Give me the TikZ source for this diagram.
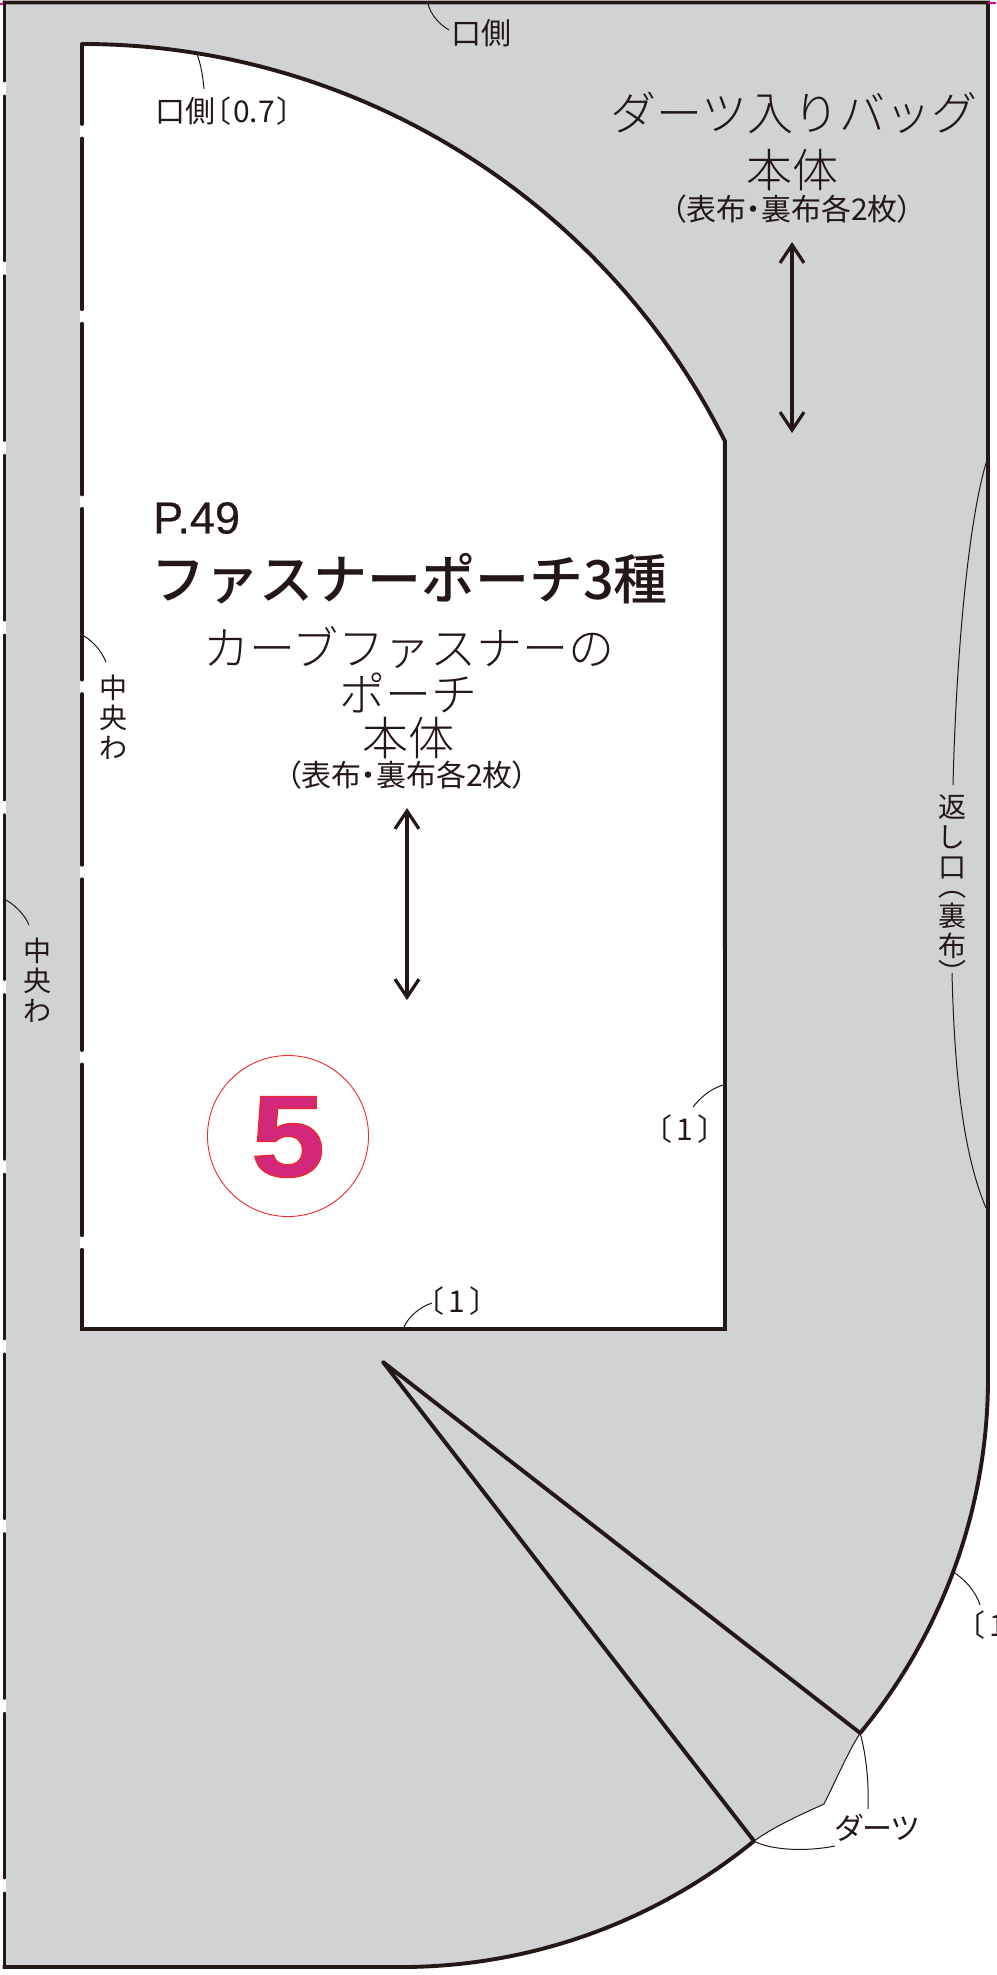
\documentclass[tikz,border=0pt]{standalone}
\usepackage{fontspec}
\usetikzlibrary{arrows.meta}
\setmainfont{Noto Sans CJK JP}
\newfontfamily\jpthin{Noto Sans CJK JP Light}
\newfontfamily\jpmedium{Noto Sans CJK JP Medium}
\newfontfamily\jppalt[RawFeature=+palt]{Noto Sans CJK JP}
\newfontfamily\latinsans[FakeBold=0.5]{Liberation Sans}
\newfontfamily\numfat[FakeBold=1.2]{Liberation Sans Bold}
\definecolor{inkblack}{HTML}{231815}
\definecolor{clothgray}{HTML}{D0D2D4}
\definecolor{markred}{HTML}{EE2A30}
\definecolor{markpink}{HTML}{D2277B}
\tikzset{
  cutline/.style={line width=3.9pt,draw=inkblack,line join=miter},
  foldline/.style={line width=3.9pt,draw=inkblack,line cap=round},
  leaderline/.style={line width=1pt,draw=inkblack},
  grainline/.style={line width=3.2pt,draw=inkblack,{Straight Barb[length=18pt,width=24pt,line width=3.2pt]}-{Straight Barb[length=18pt,width=24pt,line width=3.2pt]}},
  namejp/.style={inner sep=0pt,text=inkblack,font=\jpthin\fontsize{46}{50}\selectfont},
  notejp/.style={inner sep=0pt,text=inkblack,font=\jppalt\fontsize{30}{32}\selectfont},
  stackjp/.style={notejp,align=center,font=\jppalt\fontsize{28}{30}\selectfont},
}
\begin{document}
\begin{tikzpicture}[x=1pt,y=-1pt]
\useasboundingbox (0,0) rectangle (996,1975);
\fill [clothgray] (4.5,2.5) -- (988,2.5) -- (988,1378) arc [start angle=0,end angle=-39.6,radius=557pt] coordinate (dartup)
  .. controls (848,1752) and (836,1780) .. (824,1804) coordinate (dartmid) .. controls (800,1815) and (775,1826) .. (754,1841) coordinate (dartlow)
  arc [start angle=-50.7,end angle=-90,radius=557pt] coordinate (hemend) -- (4.5,1967) -- cycle;
\fill [white] (82,44) arc [start angle=90,end angle=26.6,radius=719pt] coordinate (shoulder) -- (725,1329) -- (82,1329) -- cycle;
\draw [line width=3.9pt,white] (4.5,2.5) -- (4.5,1967);
\draw [line width=3.9pt,white] (82,44) -- (82,1329);
\draw [foldline,dash pattern=on 163.7pt off 16pt,dash phase=85.7pt] (4.5,2.5) -- (4.5,1967);
\draw [foldline,dash pattern=on 170.7pt off 14.5pt,dash phase=90.7pt] (82,44) -- (82,1329);
\draw [cutline] (2.6,1967) -- (hemend) arc [start angle=-90,end angle=-50.7,radius=557pt];
\draw [cutline] (2.6,2.5) -- (988,2.5) -- (988,1378) arc [start angle=0,end angle=-39.6,radius=557pt];
\draw [cutline] (80.1,1329) -- (725,1329) -- (shoulder) arc [start angle=26.6,end angle=90,radius=719pt];
\coordinate (apex) at (383,1362);
\draw [foldline,line join=round] (dartup) -- (apex) -- (dartlow);
\draw [leaderline] (dartup) .. controls (848,1752) and (836,1780) .. (dartmid) .. controls (800,1815) and (775,1826) .. (dartlow);
\draw [line width=1.6pt,draw=magenta] (988,3) -- (996,3);
\draw [line width=1.6pt,draw=magenta] (0,4) -- (3,4);

\node [namejp] (bagname) at (794,113) {ダーツ入りバッグ};
\node [namejp] (bagbody) at (792,170) {本体};
\node [notejp] (bagcount) at (792,209) {（表布・裏布各2枚）};
\coordinate (bagup) at (792,242);
\coordinate (bagdown) at (792,433);
\draw [grainline] (bagup) -- (bagdown);

\node [inner sep=0pt,anchor=west,text=inkblack,font=\latinsans\fontsize{45}{48}\selectfont] (pagenum) at (153,518) {P.49};
\node [inner sep=0pt,anchor=west,text=inkblack,font=\jpmedium\fontsize{54}{58}\selectfont] (series) at (151,579) {ファスナーポーチ3種};
\node [namejp] (pouchname) at (409,648) {カーブファスナーの};
\node [namejp] (pouchname2) at (408,693) {ポーチ};
\node [namejp] (pouchbody) at (408,738) {本体};
\node [notejp] (pouchcount) at (407,775) {（表布・裏布各2枚）};
\coordinate (pouchup) at (407,808);
\coordinate (pouchdown) at (407,1000);
\draw [grainline] (pouchup) -- (pouchdown);

\node [circle,draw=markred,line width=0.9pt,minimum size=161pt,inner sep=0pt] (badge) at (288,1136) {};
\node [inner sep=0pt,xscale=1.15,text=markpink,font=\numfat\fontsize{116}{116}\selectfont] (badgenum) at (288,1137) {\special{pdf:code 0.93 0.16 0.19 RG}5};

\node [notejp] (topedge) at (481,33) {口側};
\coordinate (topedgept) at (428,4);
\coordinate (topedgeend) at (449,30);
\draw [leaderline] (topedgept) .. controls (431,15) and (439,24) .. (topedgeend);
\node [notejp] (curveedge) at (224,111) {口側〔\hspace{3pt}0.7\hspace{3pt}〕};
\coordinate (curveedgept) at (197,54);
\coordinate (curveedgeend) at (204,89);
\draw [leaderline] (curveedgept) .. controls (201,65) and (203,77) .. (curveedgeend);
\node [stackjp] (foldin) at (113,717) {中\\央\\わ};
\coordinate (foldinpt) at (84,636);
\coordinate (foldinend) at (106,662);
\draw [leaderline] (foldinpt) .. controls (94,642) and (102,652) .. (foldinend);
\node [stackjp] (foldout) at (37,980) {中\\央\\わ};
\coordinate (foldoutpt) at (6,900);
\coordinate (foldoutend) at (29,925);
\draw [leaderline] (foldoutpt) .. controls (15,905) and (25,915) .. (foldoutend);
\node [notejp] (sideallow) at (685,1129) {〔\hspace{5pt}1\hspace{5pt}〕};
\coordinate (sideallowpt) at (723,1085);
\coordinate (sideallowend) at (693,1107);
\draw [leaderline] (sideallowpt) .. controls (710,1089) and (700,1098) .. (sideallowend);
\node [notejp] (botallow) at (457,1301) {〔\hspace{5pt}1\hspace{5pt}〕};
\coordinate (botallowpt) at (404,1327);
\coordinate (botallowend) at (432,1303);
\draw [leaderline] (botallowpt) .. controls (409,1316) and (420,1307) .. (botallowend);
\node [notejp,anchor=west] (curveallow) at (969,1625) {〔\hspace{5pt}1};
\coordinate (curveallowpt) at (953,1572);
\coordinate (curveallowend) at (980,1605);
\draw [leaderline] (curveallowpt) .. controls (965,1579) and (976,1592) .. (curveallowend);
\node [stackjp,anchor=north] (opening) at (952,794) {返\\し\\口\\[-11pt]︵\\裏\\布\\[-3pt]︶};
\coordinate (openingtop) at (987,460);
\coordinate (openingup) at (953,785);
\coordinate (openingdown) at (952,973);
\coordinate (openingbot) at (986,1208);
\draw [leaderline] (openingtop) .. controls (968,520) and (956,660) .. (openingup);
\draw [leaderline] (openingdown) .. controls (955,1100) and (968,1165) .. (openingbot);
\node [notejp] (dartlabel) at (877,1828) {ダーツ};
\coordinate (dartlabelup) at (868,1809);
\coordinate (dartlabellow) at (835,1846);
\draw [leaderline] (dartup) .. controls (866,1755) and (869,1780) .. (dartlabelup);
\draw [leaderline] (dartlow) .. controls (770,1850) and (805,1852) .. (dartlabellow);
\end{tikzpicture}
\end{document}
